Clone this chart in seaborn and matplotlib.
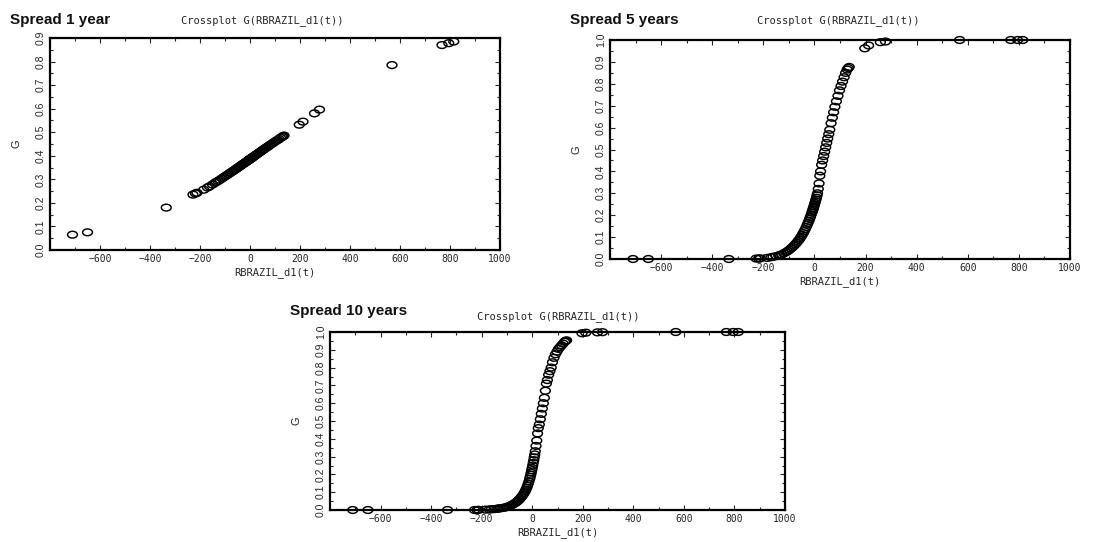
import matplotlib.pyplot as plt
import seaborn as sns
import pandas as pd
from matplotlib.path import Path
from matplotlib.transforms import Affine2D
from matplotlib.ticker import MultipleLocator, FixedLocator, FormatStrFormatter

plt.switch_backend("Agg")

# shared x values
rbrazil = [-710, -650, -335, -228, -218, -212, -185, -170, -162, -150, -140, -135,
           -128, -120, -112, -105, -98, -92, -86, -80, -75, -70, -65, -60, -56, -52,
           -48, -44, -40, -36, -32, -28, -25, -22, -19, -16, -13, -10, -8, -6, -4, -2,
           0, 2, 4, 6, 8, 10, 12, 15, 18, 21, 24, 28, 32, 36, 40, 44, 48, 52, 56, 60,
           65, 70, 75, 80, 86, 92, 98, 104, 110, 116, 122, 128, 132, 136,
           197, 212, 258, 278, 568, 768, 795, 815]

g_1y = [0.065, 0.075, 0.18, 0.235, 0.24, 0.243, 0.256, 0.265, 0.27, 0.278, 0.285, 0.289,
        0.293, 0.298, 0.304, 0.309, 0.314, 0.318, 0.322, 0.327, 0.330, 0.334, 0.337, 0.341,
        0.344, 0.347, 0.35, 0.353, 0.356, 0.359, 0.362, 0.365, 0.367, 0.369, 0.371, 0.374,
        0.376, 0.378, 0.38, 0.381, 0.383, 0.384, 0.386, 0.387, 0.389, 0.39, 0.392, 0.393,
        0.395, 0.397, 0.399, 0.402, 0.404, 0.407, 0.41, 0.413, 0.416, 0.419, 0.422, 0.425,
        0.428, 0.431, 0.435, 0.438, 0.442, 0.446, 0.45, 0.454, 0.459, 0.463, 0.467, 0.471,
        0.476, 0.48, 0.483, 0.486, 0.532, 0.545, 0.58, 0.596, 0.785, 0.87, 0.878, 0.885]

g_5y = [0.0, 0.0, 0.0, 0.002, 0.002, 0.003, 0.005, 0.008, 0.01, 0.013, 0.016, 0.018,
        0.021, 0.026, 0.031, 0.036, 0.042, 0.048, 0.054, 0.061, 0.067, 0.074, 0.081, 0.088,
        0.095, 0.102, 0.11, 0.118, 0.127, 0.136, 0.146, 0.157, 0.165, 0.174, 0.183, 0.192,
        0.202, 0.212, 0.219, 0.226, 0.233, 0.24, 0.248, 0.256, 0.264, 0.272, 0.28, 0.29,
        0.30, 0.32, 0.345, 0.38, 0.40, 0.43, 0.45, 0.47, 0.49, 0.51, 0.53, 0.55, 0.57, 0.59,
        0.62, 0.645, 0.67, 0.695, 0.72, 0.745, 0.77, 0.79, 0.81, 0.83, 0.85, 0.865, 0.872,
        0.877, 0.962, 0.975, 0.99, 0.993, 1.0, 1.0, 1.0, 1.0]

g_10y = [0.0, 0.0, 0.0, 0.0, 0.0, 0.001, 0.002, 0.003, 0.004, 0.005, 0.007, 0.008,
         0.009, 0.011, 0.013, 0.015, 0.018, 0.021, 0.025, 0.029, 0.033, 0.037, 0.042, 0.047,
         0.052, 0.058, 0.064, 0.071, 0.078, 0.086, 0.095, 0.105, 0.114, 0.124, 0.135, 0.147,
         0.16, 0.175, 0.186, 0.198, 0.21, 0.223, 0.236, 0.25, 0.265, 0.28, 0.296, 0.312,
         0.33, 0.36, 0.39, 0.43, 0.46, 0.48, 0.51, 0.54, 0.57, 0.60, 0.63, 0.67, 0.71, 0.73,
         0.76, 0.78, 0.80, 0.83, 0.855, 0.875, 0.89, 0.905, 0.915, 0.925, 0.935, 0.945, 0.95,
         0.953, 0.993, 0.996, 0.998, 0.999, 1.0, 1.0, 1.0, 1.0]

panel_titles = ["Spread 1 year", "Spread 5 years", "Spread 10 years"]
y_max = [0.9, 1.0, 1.0]

sns.set_style("ticks")
plt.rcParams["font.family"] = ["DejaVu Sans"]

# flat ellipse marker like the original EViews-style circles
ellipse = Path.unit_circle().transformed(Affine2D().scale(1.45, 1.0))
narrow = ["Liberation Sans Narrow", "Liberation Sans", "DejaVu Sans"]

fig = plt.figure(figsize=(11.12, 5.42), dpi=100)
W, H = 1112, 542
# left, top, right, bottom in pixels
boxes = [(50, 38, 500, 250), (610, 40, 1070, 259), (330, 332, 785, 510)]
heads = [(10, 20, 262, 21), (570, 20, 838, 21), (290, 311, 558, 317)]

series = [g_1y, g_5y, g_10y]
for i, g in enumerate(series):
    l, t, r, b = boxes[i]
    ax = fig.add_axes([l / W, 1 - b / H, (r - l) / W, (b - t) / H])
    df = pd.DataFrame({"x": rbrazil, "G": g})
    sns.scatterplot(data=df, x="x", y="G", ax=ax, marker=ellipse, s=50,
                    facecolor="none", edgecolor="black", linewidth=1.05,
                    clip_on=False, legend=False)
    ax.set_xlim(-800, 1000)
    ax.set_ylim(0, y_max[i])
    ax.xaxis.set_major_locator(FixedLocator(list(range(-600, 1001, 200))))
    ax.xaxis.set_minor_locator(MultipleLocator(100))
    ax.yaxis.set_major_locator(MultipleLocator(0.1))
    ax.yaxis.set_minor_locator(MultipleLocator(0.05))
    ax.yaxis.set_major_formatter(FormatStrFormatter("%.1f"))
    ax.tick_params(which="both", direction="in", top=True, right=True, width=0.8)
    ax.tick_params(which="major", length=3.5, pad=3)
    ax.tick_params(which="minor", length=2)
    for lab in ax.get_yticklabels():
        lab.set_rotation(90)
        lab.set_va("center")
        lab.set_family(narrow)
        lab.set_fontsize(7.5)
    for lab in ax.get_xticklabels():
        lab.set_family("DejaVu Sans Mono")
        lab.set_fontsize(7)
    for sp in ax.spines.values():
        sp.set_linewidth(1.6)
        sp.set_color("black")
    ax.set_xlabel("RBRAZIL_d1(t)", family="DejaVu Sans Mono", fontsize=7.5, labelpad=2)
    ax.set_ylabel("G", family=narrow, fontsize=8, labelpad=10)

    hx, hy, cx, cy = heads[i]
    fig.text(hx / W, 1 - hy / H, panel_titles[i], ha="left", va="center",
             fontsize=11, fontweight="bold", color="#111111", family=narrow)
    fig.text(cx / W, 1 - cy / H, "Crossplot G(RBRAZIL_d1(t))", ha="center", va="center",
             fontsize=7.5, family="DejaVu Sans Mono")

fig.savefig("out.png", dpi=100, facecolor="white")
plt.close(fig)
